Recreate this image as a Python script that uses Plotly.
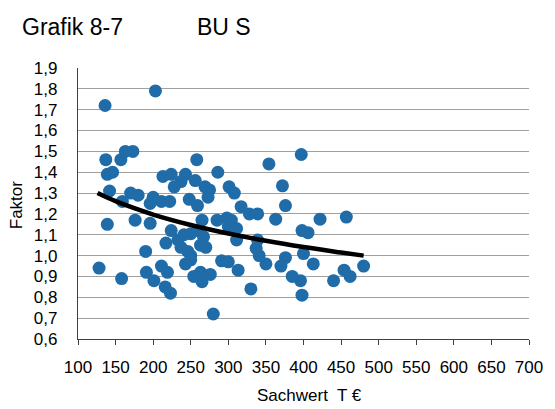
import plotly.graph_objects as go

# Sachwert (T €) and Faktor for each property
sachwert = [
    136, 203, 137, 157, 163, 173, 258, 146, 139, 142,
    213, 224, 243, 228, 237, 256, 269, 170, 180, 159,
    200, 196, 211, 222, 248, 259,
    139, 176, 196, 224, 233, 241, 250, 259, 217, 237,
    246, 250, 263, 190, 128, 158, 191, 201, 211, 219,
    243, 254, 263, 265, 216, 223,
    317, 328, 339, 376, 363, 285, 298, 304, 300, 311,
    265, 267, 270, 311, 339, 337, 341, 350, 398, 406,
    400, 413, 250, 291, 300, 313, 376, 370, 276, 385,
    396, 330, 398, 280,
    286, 275, 273, 301, 308, 354, 397, 372,
    422, 457, 480, 454, 462, 440,
]
faktor = [
    1.72, 1.79, 1.46, 1.46, 1.50, 1.50, 1.46, 1.40, 1.39, 1.31,
    1.38, 1.39, 1.39, 1.33, 1.355, 1.36, 1.33, 1.30, 1.29, 1.26,
    1.28, 1.25, 1.26, 1.26, 1.27, 1.24,
    1.15, 1.17, 1.155, 1.12, 1.075, 1.10, 1.105, 1.12, 1.06, 1.04,
    1.02, 1.00, 1.05, 1.02, 0.94, 0.89, 0.92, 0.88, 0.95, 0.92,
    0.96, 0.90, 0.92, 0.875, 0.85, 0.82,
    1.235, 1.20, 1.20, 1.24, 1.175, 1.17, 1.18, 1.17, 1.14, 1.13,
    1.17, 1.09, 1.04, 1.075, 1.075, 1.035, 1.00, 0.96, 1.12, 1.11,
    1.01, 0.96, 0.98, 0.975, 0.97, 0.93, 0.99, 0.95, 0.91, 0.90,
    0.88, 0.84, 0.81, 0.72,
    1.40, 1.315, 1.28, 1.33, 1.30, 1.44, 1.485, 1.335,
    1.175, 1.185, 0.95, 0.93, 0.90, 0.88,
]

# Logarithmic trend line, sampled along its course
trend_x = [126, 150, 200, 250, 300, 350, 400, 450, 480]
trend_y = [1.300, 1.261, 1.197, 1.147, 1.106, 1.071, 1.041, 1.015, 1.000]

x_ticks = list(range(100, 701, 50))
y_ticks = [round(0.6 + 0.1 * i, 1) for i in range(14)]
y_labels = [f"{v:.1f}".replace(".", ",") for v in y_ticks]

FONT = "Liberation Sans, Arial, sans-serif"

fig = go.Figure()
fig.add_trace(go.Scatter(
    x=sachwert, y=faktor, mode="markers",
    marker=dict(size=13, color="#1f6ca9", line=dict(width=0)),
    showlegend=False, hoverinfo="x+y",
))
fig.add_trace(go.Scatter(
    x=trend_x, y=trend_y, mode="lines",
    line=dict(color="black", width=4.5, shape="spline"),
    showlegend=False, hoverinfo="skip",
))

fig.update_layout(
    width=555, height=409,
    margin=dict(l=78, r=17, t=68, b=70),
    paper_bgcolor="white", plot_bgcolor="white",
    font=dict(family=FONT, size=17, color="black"),
    xaxis=dict(
        range=[100, 700], tickvals=x_ticks, ticktext=[str(v) for v in x_ticks],
        showgrid=False, zeroline=False,
        showline=True, linecolor="#404040", linewidth=1.3,
        ticks="outside", ticklen=5, tickcolor="#404040", tickwidth=1.3,
        ticklabelstandoff=7,
        tickfont=dict(family=FONT, size=17),
    ),
    yaxis=dict(
        range=[0.6, 1.9], tickvals=y_ticks, ticktext=y_labels,
        showgrid=True, gridcolor="#a0a0a0", gridwidth=1.2,
        zeroline=False,
        showline=True, linecolor="#404040", linewidth=1.3,
        ticks="", ticklabelstandoff=16,
        tickfont=dict(family=FONT, size=17),
    ),
    annotations=[
        dict(text="Grafik 8-7", x=19, y=27, showarrow=False,
             xanchor="left", yanchor="middle",
             font=dict(family=FONT, size=23)),
        dict(text="BU S", x=197, y=27, showarrow=False,
             xanchor="left", yanchor="middle",
             font=dict(family=FONT, size=23)),
        dict(text="Sachwert  T €", x=314, y=395, showarrow=False,
             xanchor="center", yanchor="middle",
             font=dict(family=FONT, size=17)),
        dict(text="Faktor", x=15, y=205, showarrow=False, textangle=-90,
             xanchor="center", yanchor="middle",
             font=dict(family=FONT, size=17)),
    ],
)

# Place the free-standing texts in pixel positions of the page
W, H = 555, 409
L, R, T, B = 78, 17, 68, 70
pw, ph = W - L - R, H - T - B
for a in fig.layout.annotations:
    a.xref = "paper"
    a.yref = "paper"
    a.x = (a.x - L) / pw
    a.y = (H - B - a.y) / ph

fig.write_html("out.html")
